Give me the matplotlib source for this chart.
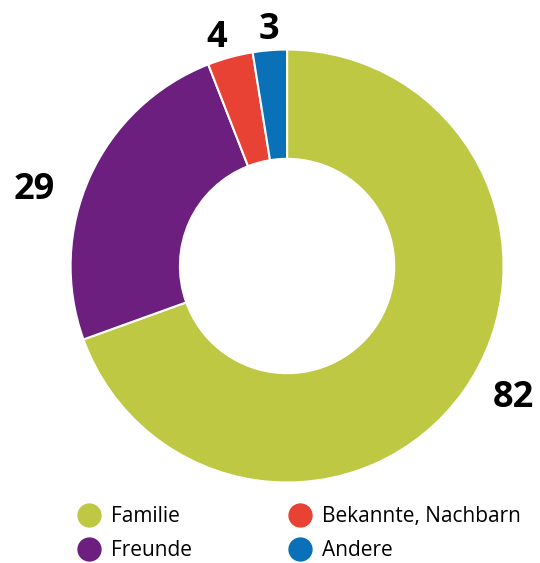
import matplotlib
matplotlib.use("Agg")
import matplotlib.pyplot as plt
from matplotlib.lines import Line2D
import numpy as np

categories = ["Familie", "Freunde", "Bekannte, Nachbarn", "Andere"]
values = [82, 29, 4, 3]
colors = ["#bec843", "#6c1f7e", "#e74233", "#0a70b8"]

plt.rcParams['font.family'] = ['Open Sans', 'DejaVu Sans']

fig = plt.figure(figsize=(5.4, 5.63), dpi=100)
ax = fig.add_axes([0.1306, 0.143, 0.802, 0.769])
wedges, _ = ax.pie(values, colors=colors, startangle=90, counterclock=False,
                   radius=1.0, wedgeprops=dict(width=0.505, edgecolor="white", linewidth=1.5))
ax.set_xlim(-1, 1)
ax.set_ylim(-1, 1)
ax.set_aspect('equal')
ax.axis('off')

# label placement (radius, angle nudge in degrees)
label_r = [1.2, 1.226, 1.121, 1.116]
label_dang = [5.6, 6.8, 1.6, -0.3]
for w, v, r, da in zip(wedges, values, label_r, label_dang):
    ang = np.deg2rad((w.theta1 + w.theta2) / 2 + da)
    ax.text(r * np.cos(ang), r * np.sin(ang), str(v), ha='center', va='center_baseline',
            fontsize=26, fontweight='bold', color='black', clip_on=False)

handles = [Line2D([0], [0], marker='o', linestyle='', markersize=16.5,
                  markerfacecolor=c, markeredgecolor=c) for c in colors]
fig.legend(handles, categories, ncol=2, loc='center', bbox_to_anchor=(0.553, 0.052),
           frameon=False, fontsize=15, handletextpad=0.45, columnspacing=4.6,
           labelspacing=0.62, handlelength=1.2)

fig.savefig("out.png", dpi=100)
